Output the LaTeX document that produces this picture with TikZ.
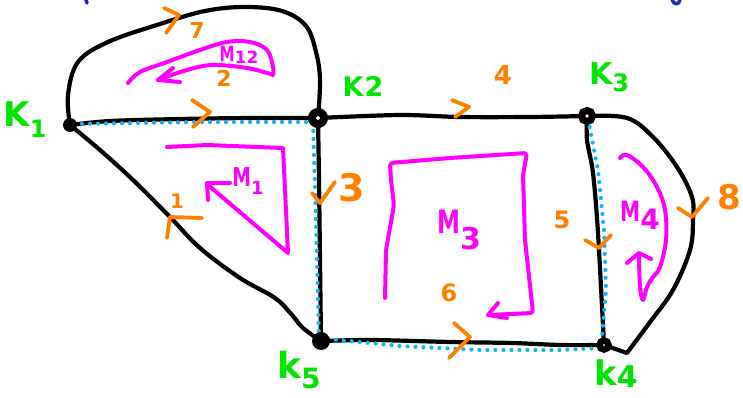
\documentclass[tikz,border=0pt]{standalone}
\usepackage{fontspec}
\usepackage{graphicx}
\setmainfont{DejaVu Sans}
\definecolor{kgreen}{RGB}{0,228,0}
\definecolor{ored}{RGB}{255,128,0}
\definecolor{mag}{RGB}{255,0,255}
\definecolor{dotblue}{RGB}{20,180,240}
\definecolor{inkblue}{RGB}{40,40,190}
\newcommand{\fs}[1]{\fontsize{#1}{#1}\selectfont\bfseries}
\newcommand{\nM}{\scalebox{0.72}[1]{M}}
\begin{document}
\begin{tikzpicture}[x=1pt,y=-1pt,
  edge/.style={line width=4.2pt,line cap=round,line join=round},
  bluedots/.style={dotblue,line width=4.2pt,line cap=round,dash pattern=on 0pt off 8pt},
  mpath/.style={mag,line width=4pt,line cap=round,line join=round},
  chev/.style={ored,line width=3.8pt,line cap=round,line join=round},
  olab/.style={text=ored,inner sep=0pt,font=\fs{24}},
  klab/.style={text=kgreen,inner sep=0pt,font=\fs{30}},
  mlab/.style={text=mag,inner sep=0pt,font=\fs{26}},
  vdot/.style={circle,fill=black,inner sep=0pt,minimum size=14pt},
  vring/.style={circle,draw=black,fill=white,line width=8pt,inner sep=0pt,minimum size=12pt}]
\useasboundingbox (0,0) rectangle (743,398);
\coordinate (k1) at (70,125);
\coordinate (k2) at (318,118);
\coordinate (k3) at (587,116);
\coordinate (k4) at (604,345);
\coordinate (k5) at (321,341);
% cut-off ink at the top
\draw[inkblue,line width=3.5pt,line cap=round] (86,0) -- (87,3);
\draw[inkblue,line width=3.5pt,line cap=round] (672,0) .. controls (674,5) and (679,5) .. (680,0);
% edges
\draw[edge] plot[smooth,tension=0.6] coordinates {(k1) (68,95) (78,62) (108,42) (160,24) (205,11) (245,7) (282,11) (306,26) (316,52) (320,80) (k2)};
\draw[edge] plot[smooth,tension=0.5] coordinates {(k1) (110,121) (180,119) (250,118) (k2)};
\draw[edge] plot[smooth,tension=0.6] coordinates {(k1) (100,150) (133,180) (170,217) (200,248) (240,278) (275,298) (292,315) (303,328) (k5)};
\draw[edge] plot[smooth,tension=0.5] coordinates {(k2) (319,180) (320,260) (k5)};
\draw[edge] plot[smooth,tension=0.5] coordinates {(k2) (400,115) (460,117) (530,117) (k3)};
\draw[edge] plot[smooth,tension=0.5] coordinates {(k5) (372,340) (450,342) (512,343) (560,345) (k4)};
\draw[edge] plot[smooth,tension=0.5] coordinates {(k3) (587,140) (593,173) (598,233) (k4)};
\draw[edge] plot[smooth,tension=0.6] coordinates {(k3) (627,118) (653,137) (677,167) (692,197) (693,220) (690,250) (673,290) (650,322) (627,353)} -- (k4);
% blue dotted cycle
\draw[bluedots] (74,124) -- (200,122) -- (313,122) -- (316,220) -- (319,338) -- (400,346) -- (480,350) -- (560,350) -- (601,348) -- (606,290) -- (604,230) -- (598,170) -- (589,124);
% vertices
\node[vdot] (n1) at (k1) {};
\node[vring] (n2) at (k2) {};
\node[vring,minimum size=11pt,line width=7pt] (n3) at (k3) {};
\node[vring,minimum size=9pt,line width=6.5pt] (n4) at (k4) {};
\node[vdot,minimum size=18pt] (n5) at (k5) {};
% orange direction marks
\draw[chev] (164,8) -- (179,15) -- (166,33);
\draw[chev] (192,100) -- (210,112) -- (193,127);
\draw[chev] (452,100) -- (469,107) -- (455,117);
\draw[chev] (454,323) -- (470,337) -- (449,358);
\draw[chev] (167,238) -- (170,217) -- (202,218);
\draw[chev] (312,193) -- (320,203) -- (335,182);
\draw[chev] (585,240) -- (599,248) -- (611,235);
\draw[chev] (678,208) -- (692,217) -- (708,198);
% orange labels
\node[olab,font=\fs{22}] (e7) at (197,30) {7};
\node[olab,font=\fs{22}] (e2) at (224,78) {2};
\node[olab,font=\fs{26}] (e4) at (503,75) {4};
\node[olab,font=\fs{38}] (e3) at (352,188) {3};
\node[olab,font=\fs{20}] (e1) at (177,201) {1};
\node[olab,font=\fs{24}] (e5) at (562,220) {5};
\node[olab,font=\fs{24}] (e6) at (449,293) {6};
\node[olab,font=\fs{34}] (e8) at (729,197) {8};
% green vertex labels
\node[klab,font=\fs{34}] (t1) at (25,120) {K\raisebox{-0.32em}{\fs{24}1}};
\node[klab,font=\fs{27}] (t2) at (363,86) {K\hspace{1pt}2};
\node[klab,font=\fs{30}] (t3) at (609,77) {K\raisebox{-0.22em}{\fs{24}3}};
\node[klab,font=\fs{34}] (t4) at (616,374) {k\raisebox{-0.06em}{\fs{30}4}};
\node[klab,font=\fs{36}] (t5) at (299,370) {k\raisebox{-0.3em}{\fs{28}5}};
% magenta mesh loops
\draw[mpath] plot[smooth,tension=0.6] coordinates {(128,83) (140,72) (167,62) (200,50) (227,42) (250,42) (267,50) (273,67) (273,75)};
\draw[mpath] plot[smooth,tension=0.6] coordinates {(273,75) (267,73) (247,68) (213,65) (187,70) (158,80)};
\draw[mpath] (173,68) -- (158,80) -- (180,82);
\draw[mpath] (167,147) -- (207,145) -- (283,148) -- (288,253) -- (208,185);
\draw[mpath] (230,183) -- (207,183) -- (208,200);
\draw[mpath,rounded corners=3pt] (385,298) -- (386,250) -- (394,205) -- (391,180) -- (390,163) -- (450,158) -- (527,153) -- (523,175) -- (525,240) -- (533,313) -- (488,315);
\draw[mpath] (498,303) -- (488,315) -- (507,318);
\draw[mpath] plot[smooth,tension=0.6] coordinates {(620,158) (627,155) (643,167) (657,187) (665,210) (666,240) (660,267) (653,277) (647,287) (643,300) (640,287) (639,257)};
\draw[mpath] (627,263) -- (639,253) -- (651,259);
% magenta labels
\node[mlab,font=\fs{26}] (m1) at (248,181) {\nM\raisebox{-0.3em}{\fs{18}1}};
\node[mlab,font=\fs{21}] (m12) at (239,55) {\nM\raisebox{-0.1em}{\fs{17}12}};
\node[mlab,font=\fs{32}] (m3) at (459,230) {\nM\raisebox{-0.5em}{\fs{30}3}};
\node[mlab,font=\fs{28}] (m4) at (640,215) {\nM\raisebox{-0.3em}{\fs{28}4}};
\end{tikzpicture}
\end{document}
